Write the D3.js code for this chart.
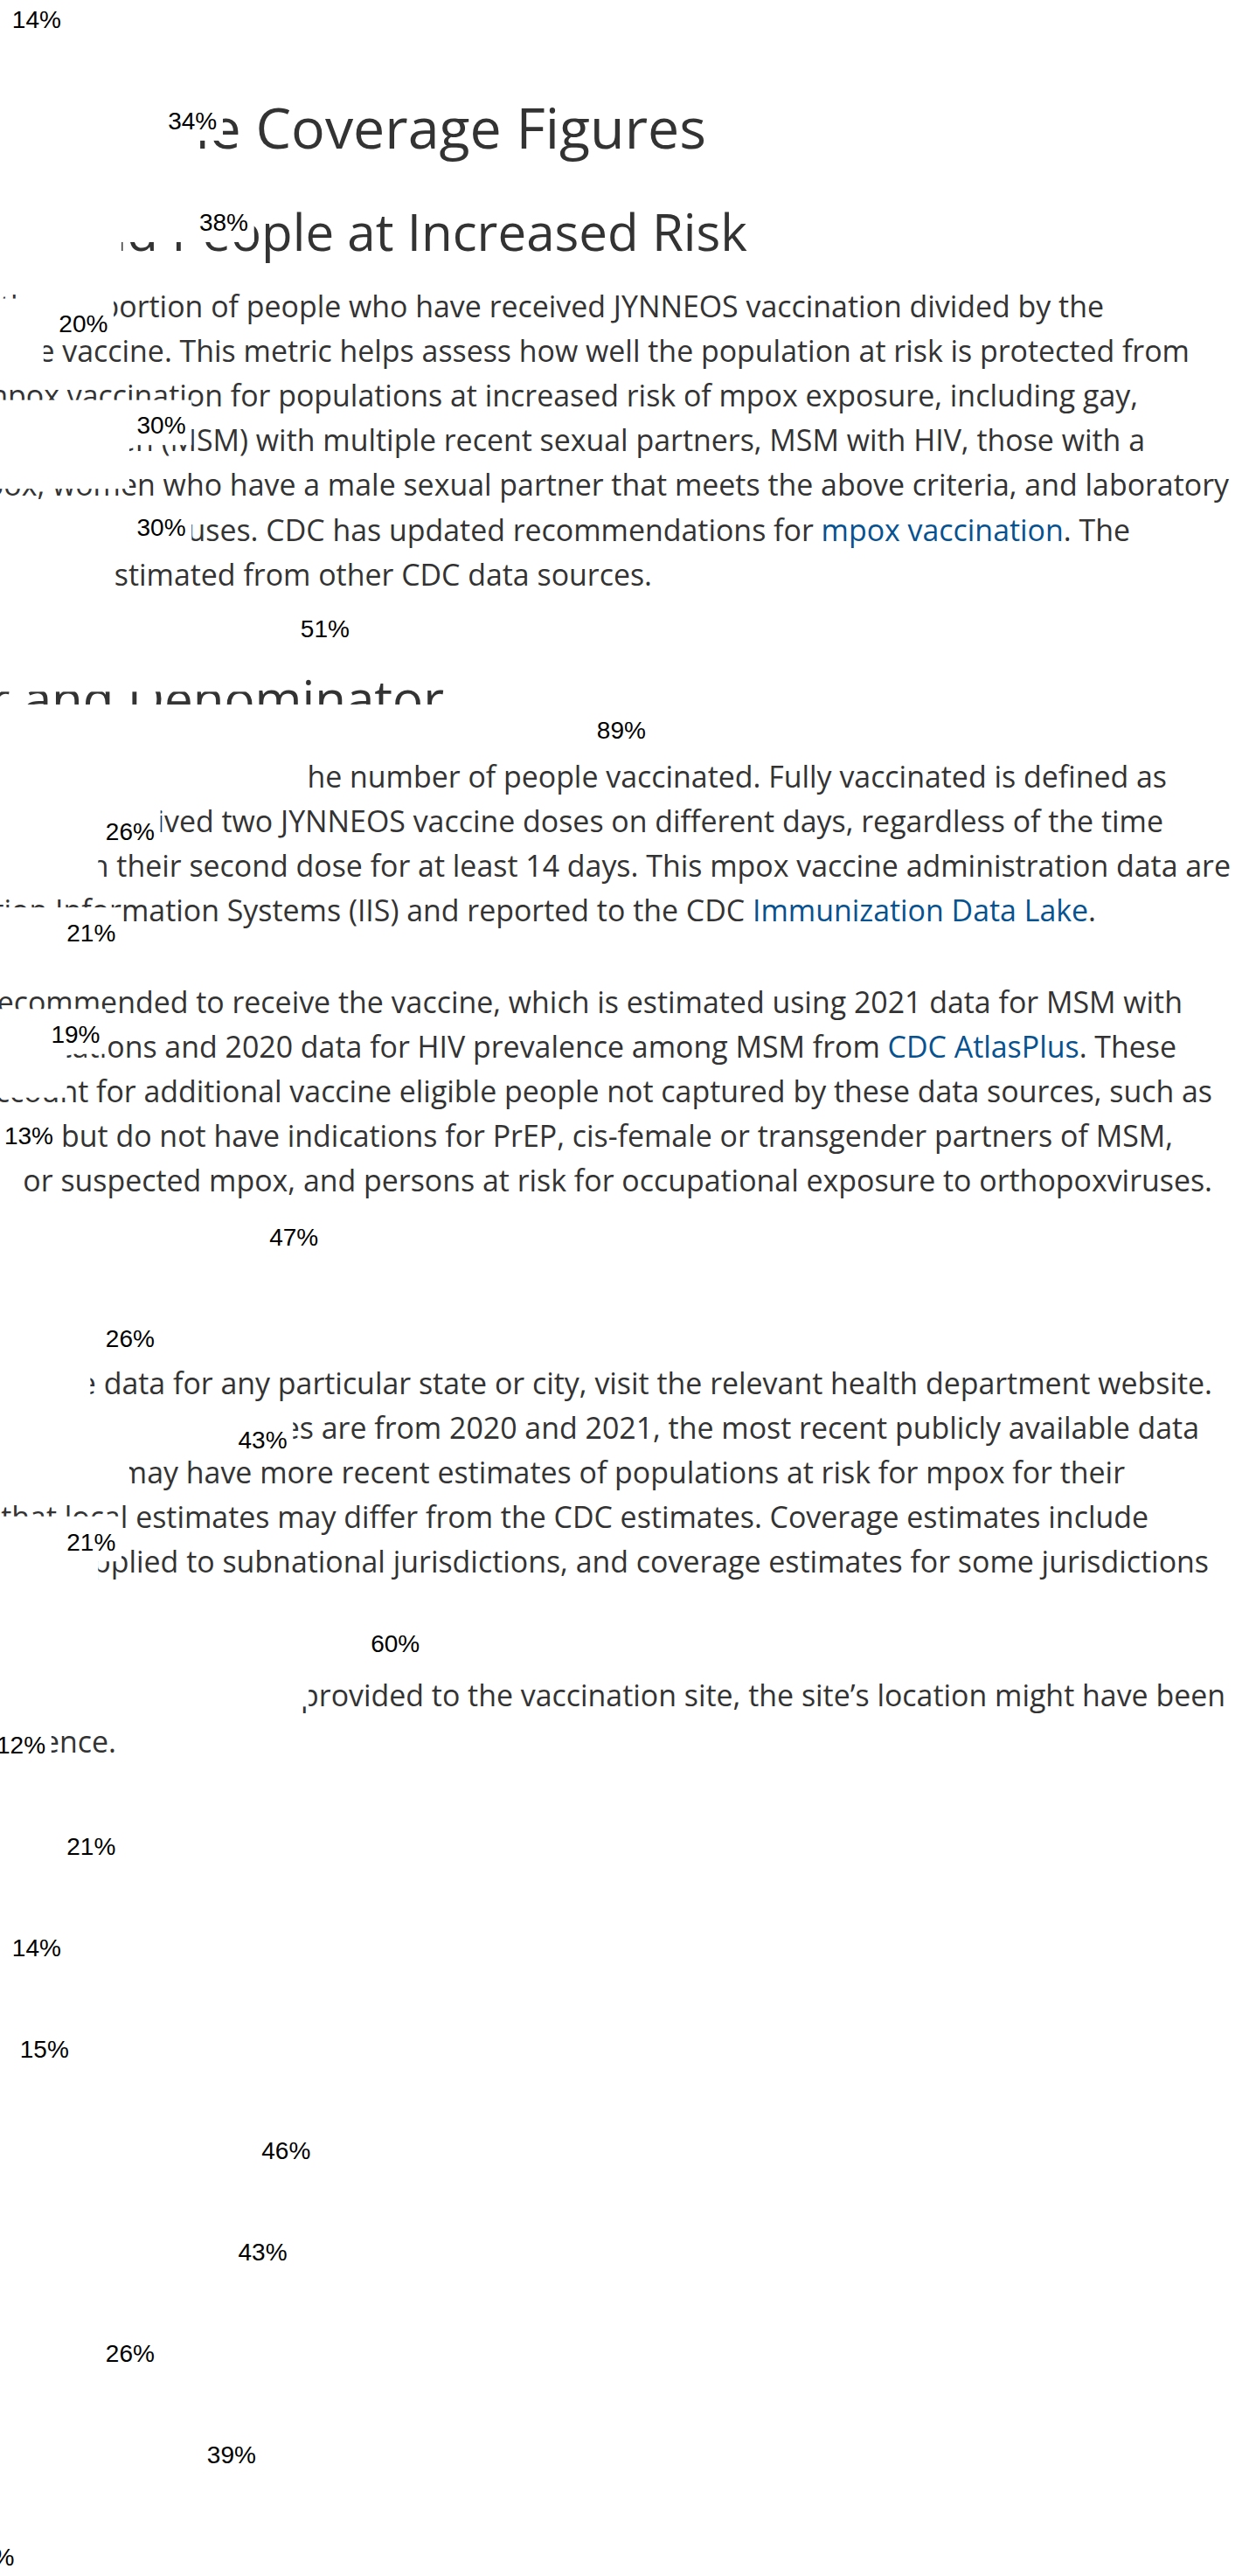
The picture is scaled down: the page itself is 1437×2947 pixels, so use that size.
<!DOCTYPE html>
<html>
<head>
<meta charset="utf-8">
<script src="https://cdn.jsdelivr.net/npm/d3@7"></script>
<style>
  html, body { margin: 0; padding: 0; background: #ffffff; }
  svg { display: block; }
</style>
</head>
<body>
<svg id="chart" width="1437" height="2947"></svg>
<script>
// ---------------- chart data ----------------
const categories = [
  "Jurisdiction 1", "Jurisdiction 2", "Jurisdiction 3", "Jurisdiction 4", "Jurisdiction 5",
  "Jurisdiction 6", "Jurisdiction 7", "Jurisdiction 8", "Jurisdiction 9", "Jurisdiction 10",
  "Jurisdiction 11", "Jurisdiction 12", "Jurisdiction 13", "Jurisdiction 14", "Jurisdiction 15",
  "Jurisdiction 16", "Jurisdiction 17", "Jurisdiction 18", "Jurisdiction 19", "Jurisdiction 20",
  "Jurisdiction 21", "Jurisdiction 22", "Jurisdiction 23", "Jurisdiction 24", "Jurisdiction 25",
  "Jurisdiction 26"
];
const seriesNames = ["At least one dose", "Fully vaccinated"];
// labelled series (percent)
const firstDoseCoverage = [14, 34, 38, 20, 30, 30, 51, 89, 26, 21, 19, 13, 47, 26, 43, 21, 60, 12, 21, 14, 15, 46, 43, 26, 39, 8];
// unlabelled series (percent), read from the text it hides
const fullCoverage = [10, 30, 21, 11, 22, 20, 37, 45, 18, 15, 14, 8, 34, 17, 22, 18, 45, 8, 15, 10, 11, 33, 31, 18, 28, 6];

// ---------------- page text behind the chart ----------------
const pageText = [
  { cls: "h1", y: 170, right: 808, parts: [["Vaccine Coverage Figures"]] },
  { cls: "h2", y: 287, right: 855, parts: [["Coverage among MSM and People at Increased Risk"]] },
  { cls: "p", y: 363.2, right: 1263, parts: [["Vaccination coverage is the proportion of people who have received JYNNEOS vaccination divided by the"]] },
  { cls: "p", y: 414.3, right: 1361, parts: [["number of people recommended to receive the vaccine. This metric helps assess how well the population at risk is protected from"]] },
  { cls: "p", y: 465.3, right: 1302, parts: [["mpox. CDC recommends mpox vaccination for populations at increased risk of mpox exposure, including gay,"]] },
  { cls: "p", y: 516.4, right: 1310, parts: [["bisexual, and other men who have sex with men (MSM) with multiple recent sexual partners, MSM with HIV, those with a"]] },
  { cls: "p", y: 567.4, right: 1406, parts: [["recent sexually transmitted infection, people with recent exposure to mpox, women who have a male sexual partner that meets the above criteria, and laboratory"]] },
  { cls: "p", y: 618.5, right: 1293, parts: [["workers who handle orthopoxviruses. CDC has updated recommendations for "], ["mpox vaccination", true], [". The"]] },
  { cls: "p", y: 669.6, right: 746, parts: [["The number of people at risk is estimated from other CDC data sources."]] },
  { cls: "h2", y: 821, right: 508, parts: [["Numerator and Denominator"]] },
  { cls: "p", y: 900.5, right: 1335, parts: [["The numerator is the number of people vaccinated. Fully vaccinated is defined as"]] },
  { cls: "p", y: 951.5, right: 1331, parts: [["people who have received two JYNNEOS vaccine doses on different days, regardless of the time"]] },
  { cls: "p", y: 1002.5, right: 1408, parts: [["interval between doses, and have been vaccinated with their second dose for at least 14 days. This mpox vaccine administration data are"]] },
  { cls: "p", y: 1053.5, right: 1254, parts: [["reported to jurisdictional Immunization Information Systems (IIS) and reported to the CDC "], ["Immunization Data Lake", true], ["."]] },
  { cls: "p", y: 1158.5, right: 1353, parts: [["The denominator is the number of people recommended to receive the vaccine, which is estimated using 2021 data for MSM with"]] },
  { cls: "p", y: 1209.6, right: 1346, parts: [["PrEP indications and 2020 data for HIV prevalence among MSM from "], ["CDC AtlasPlus", true], [". These"]] },
  { cls: "p", y: 1260.6, right: 1387, parts: [["estimates do not account for additional vaccine eligible people not captured by these data sources, such as"]] },
  { cls: "p", y: 1311.7, right: 1342, parts: [["MSM who are sexually active but do not have indications for PrEP, cis-female or transgender partners of MSM,"]] },
  { cls: "p", y: 1362.7, right: 1387, parts: [["people with confirmed or suspected mpox, and persons at risk for occupational exposure to orthopoxviruses."]] },
  { cls: "p", y: 1595.2, right: 1387, parts: [["To see coverage data for any particular state or city, visit the relevant health department website."]] },
  { cls: "p", y: 1646.2, right: 1372, parts: [["Because the population estimates are from 2020 and 2021, the most recent publicly available data"]] },
  { cls: "p", y: 1697.2, right: 1287, parts: [["sources, jurisdictions may have more recent estimates of populations at risk for mpox for their"]] },
  { cls: "p", y: 1748.2, right: 1314, parts: [["jurisdiction. Note that local estimates may differ from the CDC estimates. Coverage estimates include"]] },
  { cls: "p", y: 1799.2, right: 1383, parts: [["assumptions applied to subnational jurisdictions, and coverage estimates for some jurisdictions"]] },
  { cls: "p", y: 1951.5, right: 1402, parts: [["If the recipient\u2019s address was not provided to the vaccination site, the site\u2019s location might have been"]] },
  { cls: "p", y: 2004.7, right: 133, parts: [["used in place of the recipient\u2019s residence."]] }
];
const textStyles = {
  h1: { size: 64.5, color: "#333333" },
  h2: { size: 58.3, color: "#333333" },
  p:  { size: 33.9, color: "#333333" }
};
const linkColor = "#075290";

const svg = d3.select("#chart");

// page text (drawn first, so the chart sits on top of it)
const tg = svg.append("g").attr("class", "page-text")
  .attr("font-family", "'Open Sans', sans-serif");
pageText.forEach(line => {
  const st = textStyles[line.cls];
  const t = tg.append("text")
    .attr("x", line.right)
    .attr("y", line.y)
    .attr("text-anchor", "end")
    .attr("font-size", st.size)
    .attr("fill", st.color);
  line.parts.forEach(p => {
    t.append("tspan").text(p[0]).attr("fill", p[1] ? linkColor : st.color);
  });
});

// ---------------- chart ----------------
const x = d3.scaleLinear().domain([0, 100]).range([-49, 843]);
const pad = 0.1387;
const y = d3.scaleBand().domain(categories)
  .range([-6 - 116.1 * pad / 2, -6 - 116.1 * pad / 2 + 116.1 * 26])
  .paddingInner(pad).paddingOuter(pad / 2);
const ySub = d3.scaleBand().domain(seriesNames).range([0, y.bandwidth()]);

const rows = categories.map((c, i) => ({
  cat: c,
  vals: [firstDoseCoverage[i], fullCoverage[i]]
}));

const groups = svg.append("g").attr("class", "bars")
  .selectAll("g").data(rows).join("g")
  .attr("transform", d => `translate(0,${y(d.cat)})`);

groups.selectAll("rect")
  .data(d => d.vals.map((v, k) => ({ key: seriesNames[k], v })))
  .join("rect")
  .attr("x", x(0))
  .attr("y", d => ySub(d.key))
  .attr("width", d => x(d.v) - x(0))
  .attr("height", ySub.bandwidth())
  .attr("fill", "#ffffff")
  .attr("stroke", "#ffffff")
  .attr("stroke-width", 1.5);

svg.append("g").attr("class", "labels")
  .selectAll("text").data(rows).join("text")
  .attr("x", d => x(d.vals[0]) - 6)
  .attr("y", d => y(d.cat) + 38)
  .attr("text-anchor", "end")
  .attr("font-family", "'Liberation Sans', Arial, Helvetica, sans-serif")
  .attr("font-size", 28)
  .attr("fill", "#000000")
  .text(d => d3.format("d")(d.vals[0]) + "%");
</script>
</body>
</html>
